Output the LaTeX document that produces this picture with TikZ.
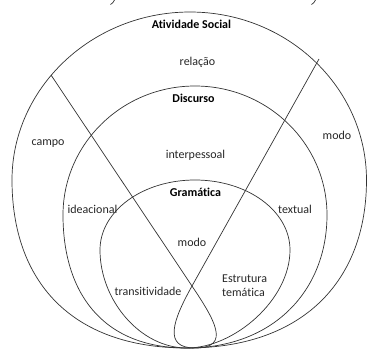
\documentclass[tikz,border=0pt]{standalone}
\usepackage{fontspec}
\setmainfont[Ligatures=NoCommon]{Carlito}
\begin{document}
\begin{tikzpicture}[x=1pt,y=-1pt,
  shapeline/.style={draw=black!80,line width=0.7pt},
  lbl/.style={inner sep=0pt,font=\fontsize{12}{14}\selectfont,text=black!85},
  ttl/.style={inner sep=0pt,font=\fontsize{12}{14}\selectfont\bfseries,text=black}]
\useasboundingbox (0,0) rectangle (368,349);
% outer shape (Atividade Social)
\draw[shapeline] (187,348) .. controls (70,348) and (12,280) .. (12,180)
  .. controls (12,88) and (92,12) .. (190,12)
  .. controls (288,12) and (366.5,88) .. (366.5,180)
  .. controls (366.5,280) and (304,348) .. (187,348);
% middle shape (Discurso)
\draw[shapeline] (187,348) .. controls (100,348) and (63,290) .. (63,215)
  .. controls (63,144) and (122,86) .. (195,86)
  .. controls (268,86) and (327,144) .. (327,215)
  .. controls (327,290) and (274,348) .. (187,348);
% inner shape (Gramatica)
\draw[shapeline] (187,348) .. controls (140,348) and (100,300) .. (100,250)
  .. controls (100,211) and (142.5,180) .. (195,180)
  .. controls (247.5,180) and (290,211) .. (290,250)
  .. controls (290,300) and (234,348) .. (187,348);
% crossing lines with loop
\coordinate (lt) at (51,75);
\coordinate (rt) at (319,59);
\coordinate (x) at (192,286);
\coordinate (bot) at (195,348);
\draw[shapeline] (lt) -- (x) .. controls (214,319) and (232,348) .. (bot)
  .. controls (163,348) and (172.5,321) .. (x) -- (rt);
% remnants at top edge
\draw[shapeline] (114.5,0) .. controls (113.5,2) and (112.5,3.5) .. (110.5,4.5);
\draw[shapeline] (315.5,0) .. controls (314.5,2) and (313.5,3.5) .. (311.5,4.5);
% labels
\node[ttl] (as) at (191.5,24) {Atividade Social};
\node[lbl] (rel) at (197.5,62) {relação};
\node[ttl] (disc) at (193.5,98) {Discurso};
\node[lbl] (campo) at (48,144) {campo};
\node[lbl] (modo1) at (337,135) {modo};
\node[lbl] (inter) at (195.5,155) {interpessoal};
\node[ttl] (gram) at (195.5,192) {Gramática};
\node[lbl] (idea) at (92.5,209) {ideacional};
\node[lbl] (text) at (295,209) {textual};
\node[lbl] (modo2) at (192,242) {modo};
\node[lbl] (trans) at (148,291) {transitividade};
\node[lbl,align=left,anchor=west] (estr) at (222,285.5) {Estrutura\\temática};
\end{tikzpicture}
\end{document}
